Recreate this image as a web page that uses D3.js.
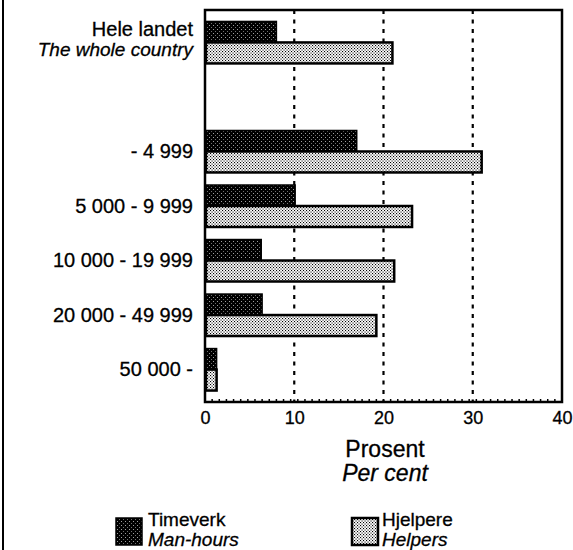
<!DOCTYPE html>
<html><head><meta charset="utf-8">
<script src="https://cdn.jsdelivr.net/npm/d3@7"></script>
<style>
html,body{margin:0;padding:0;background:#fff;}
svg{display:block;font-family:"Liberation Sans",Arial,Helvetica,sans-serif;}
</style></head>
<body>
<script>
// Data
const categories = ["Hele landet", "", "- 4 999", "5 000 - 9 999", "10 000 - 19 999", "20 000 - 49 999", "50 000 -"];
const categoriesEn = ["The whole country", "", "", "", "", "", ""];
const timeverk = [8, null, 17, 10.1, 6.3, 6.4, 1.3];
const hjelpere = [21, null, 31, 23.2, 21.2, 19.2, 1.3];
const xTicks = [0, 10, 20, 30, 40];
const gridTicks = [10, 20, 30];
const seriesNames = [["Timeverk", "Man-hours"], ["Hjelpere", "Helpers"]];

(function () {
const W = 573, H = 550;
const svg = d3.select("body").append("svg").attr("width", W).attr("height", H);

const defs = svg.append("defs");
const pd = defs.append("pattern").attr("id", "dark").attr("patternUnits", "userSpaceOnUse")
  .attr("width", 4).attr("height", 4);
pd.append("rect").attr("width", 4).attr("height", 4).attr("fill", "#000");
pd.append("rect").attr("x", 1).attr("y", 1).attr("width", 1).attr("height", 1).attr("fill", "#a0a0a0");
pd.append("rect").attr("x", 3).attr("y", 3).attr("width", 1).attr("height", 1).attr("fill", "#707070");
const pl = defs.append("pattern").attr("id", "light").attr("patternUnits", "userSpaceOnUse")
  .attr("width", 3).attr("height", 3);
pl.append("rect").attr("width", 3).attr("height", 3).attr("fill", "#fff");
pl.append("rect").attr("x", 0).attr("y", 0).attr("width", 1.1).attr("height", 1.1).attr("fill", "#000");
pl.append("rect").attr("x", 1.5).attr("y", 1.5).attr("width", 1.1).attr("height", 1.1).attr("fill", "#000");

// left page border
svg.append("line").attr("x1", 3).attr("x2", 3).attr("y1", 0).attr("y2", H)
  .attr("stroke", "#000").attr("stroke-width", 2);

const pLeft = 205, pRight = 562, pTop = 10, pBottom = 402;
const x = d3.scaleLinear().domain([0, 40]).range([pLeft, pRight]);
const y = d3.scaleBand().domain(d3.range(categories.length)).range([pTop, pBottom])
  .paddingInner(0.23).paddingOuter(0.21);
const sub = d3.scaleBand().domain([0, 1]).range([0, y.bandwidth()]);

// gridlines
svg.append("g").selectAll("line").data(gridTicks).join("line")
  .attr("x1", d => x(d)).attr("x2", d => x(d)).attr("y1", pTop).attr("y2", pBottom)
  .attr("stroke", "#000").attr("stroke-width", 2.2).attr("stroke-dasharray", "4,5.5");

// bars
const rows = categories.map((c, i) => ({i, t: timeverk[i], h: hjelpere[i]})).filter(d => d.t != null);
const g = svg.append("g");
g.selectAll("rect.t").data(rows).join("rect").attr("class", "t")
  .attr("x", x(0)).attr("y", d => y(d.i) + sub(0))
  .attr("width", d => x(d.t) - x(0)).attr("height", sub.bandwidth())
  .attr("fill", "url(#dark)").attr("stroke", "#000").attr("stroke-width", 1.5);
g.selectAll("rect.h").data(rows).join("rect").attr("class", "h")
  .attr("x", x(0) + 1).attr("y", d => y(d.i) + sub(1))
  .attr("width", d => x(d.h) - x(0) - 1).attr("height", sub.bandwidth())
  .attr("fill", "url(#light)").attr("stroke", "#000").attr("stroke-width", 2.5);

// frame
svg.append("rect").attr("x", pLeft).attr("y", pTop).attr("width", pRight - pLeft).attr("height", pBottom - pTop)
  .attr("fill", "none").attr("stroke", "#000").attr("stroke-width", 2.5);

// minor ticks on bottom
svg.append("g").selectAll("line").data(d3.range(0.8, 40, 0.8)).join("line")
  .attr("x1", d => x(d)).attr("x2", d => x(d)).attr("y1", pBottom).attr("y2", pBottom - 3)
  .attr("stroke", "#000").attr("stroke-width", 1.5);

// x axis labels
const xAxis = d3.axisBottom(x).tickValues(xTicks).tickSize(0).tickPadding(16);
const ax = svg.append("g").attr("transform", `translate(0,${pBottom})`).call(xAxis);
ax.select(".domain").remove();
ax.selectAll("text").attr("font-size", 18).attr("fill", "#000")
  .attr("stroke", "#000").attr("stroke-width", 0.3)
  .attr("font-family", "'Liberation Sans',Arial,sans-serif").attr("dy", "0.35em");

// category labels
const lab = svg.append("g").attr("font-size", 20).attr("text-anchor", "end").attr("fill", "#000")
  .attr("stroke", "#000").attr("stroke-width", 0.3);
categories.forEach((c, i) => {
  if (!c) return;
  const cy = y(i) + y.bandwidth() / 2;
  if (categoriesEn[i]) {
    lab.append("text").attr("x", 193).attr("y", cy - 6).text(c);
    lab.append("text").attr("x", 193).attr("y", cy + 14).attr("font-size", 19)
      .attr("font-style", "italic").text(categoriesEn[i]);
  } else {
    lab.append("text").attr("x", 193).attr("y", cy + 6.5).text(c);
  }
});

// axis title
const tt = svg.append("g").attr("text-anchor", "middle").attr("font-size", 23)
  .attr("stroke", "#000").attr("stroke-width", 0.3);
tt.append("text").attr("x", 385).attr("y", 457).text("Prosent");
tt.append("text").attr("x", 385).attr("y", 481).attr("font-style", "italic").text("Per cent");

// legend
const legX = [116, 352], legT = [148, 382];
const fills = ["url(#dark)", "url(#light)"];
seriesNames.forEach((s, k) => {
  svg.append("rect").attr("x", legX[k]).attr("y", 518).attr("width", 26).attr("height", 27)
    .attr("fill", fills[k]).attr("stroke", "#000").attr("stroke-width", k ? 2.5 : 1.5);
  const lg = svg.append("g").attr("font-size", 19).attr("stroke", "#000").attr("stroke-width", 0.3);
  lg.append("text").attr("x", legT[k]).attr("y", 526).text(s[0]);
  lg.append("text").attr("x", legT[k]).attr("y", 546).attr("font-style", "italic").text(s[1]);
});
})();
</script>
</body></html>
